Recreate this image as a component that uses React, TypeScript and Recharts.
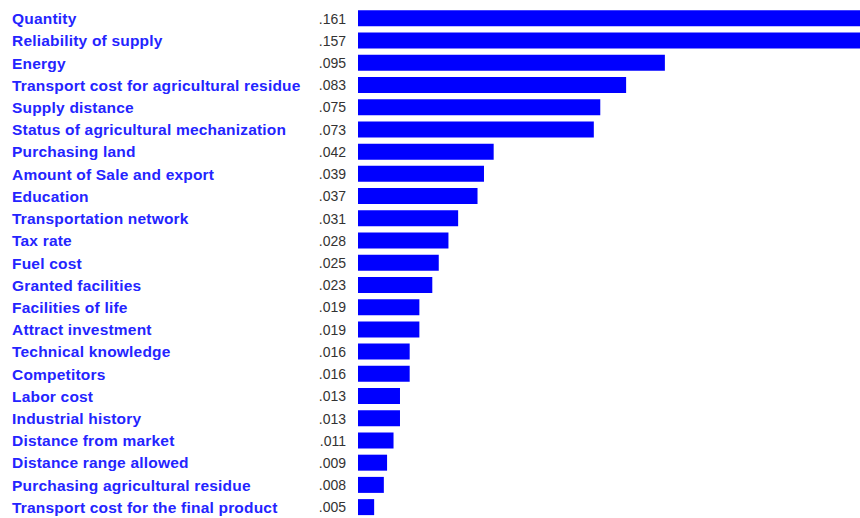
import React from "react";
import { BarChart, Bar, XAxis, YAxis } from "recharts";

const categories = [
  "Quantity",
  "Reliability of supply",
  "Energy",
  "Transport cost for agricultural residue",
  "Supply distance",
  "Status of agricultural mechanization",
  "Purchasing land",
  "Amount of Sale and export",
  "Education",
  "Transportation network",
  "Tax rate",
  "Fuel cost",
  "Granted facilities",
  "Facilities of life",
  "Attract investment",
  "Technical knowledge",
  "Competitors",
  "Labor cost",
  "Industrial history",
  "Distance from market",
  "Distance range allowed",
  "Purchasing agricultural residue",
  "Transport cost for the final product",
];

const values = [
  0.161, 0.157, 0.095, 0.083, 0.075, 0.073, 0.042, 0.039, 0.037, 0.031, 0.028,
  0.025, 0.023, 0.019, 0.019, 0.016, 0.016, 0.013, 0.013, 0.011, 0.009, 0.008,
  0.005,
];

const valueLabels = [
  ".161", ".157", ".095", ".083", ".075", ".073", ".042", ".039", ".037",
  ".031", ".028", ".025", ".023", ".019", ".019", ".016", ".016", ".013",
  ".013", ".011", ".009", ".008", ".005",
];

const data = categories.map((name, i) => ({ name, value: values[i], label: valueLabels[i] }));

const Tick = (props: any) => {
  const { y, payload, index } = props;
  const idx = typeof index === "number" ? index : categories.indexOf(payload.value);
  return (
    <g>
      <text
        x={12}
        y={y}
        dy={6}
        textAnchor="start"
        fill="#2424ff"
        fontFamily="'Liberation Sans', Arial, sans-serif"
        fontWeight="bold"
        fontSize={15.5}
        letterSpacing={0.2}
      >
        {payload.value}
      </text>
      <text
        x={346}
        y={y}
        dy={5.5}
        textAnchor="end"
        fill="#333333"
        fontFamily="'Liberation Sans', Arial, sans-serif"
        fontSize={14}
      >
        {valueLabels[idx]}
      </text>
    </g>
  );
};

export default function App() {
  return (
    <div style={{ position: "absolute", left: 0, top: 0, width: 860, height: 518, background: "#fff" }}>
      <BarChart
        width={860}
        height={518}
        data={data}
        layout="vertical"
        margin={{ top: 7, right: 0, bottom: 0, left: 0 }}
        barCategoryGap="15%"
      >
        <XAxis type="number" hide domain={[0, 0.1554]} allowDataOverflow />
        <YAxis
          type="category"
          dataKey="name"
          width={358}
          axisLine={false}
          tickLine={false}
          interval={0}
          tick={<Tick />}
        />
        <Bar dataKey="value" fill="#0000ff" isAnimationActive={false} />
      </BarChart>
    </div>
  );
}
